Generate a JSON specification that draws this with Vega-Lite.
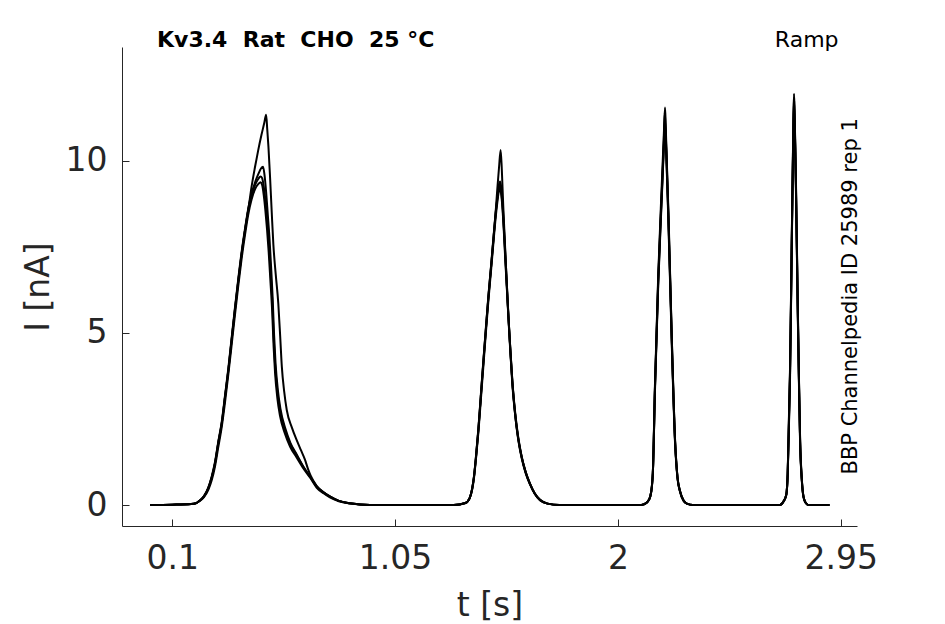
{
  "$schema": "https://vega.github.io/schema/vega-lite/v6.json",
  "width": 735,
  "height": 479,
  "autosize": "none",
  "padding": {"left": 122, "top": 47, "right": 88, "bottom": 98},
  "config": {"view": {"stroke": null}, "font": "DejaVu Sans"},
  "layer": [
    {
      "data": {
        "values": [
          {"s": "C", "t": 0.005, "i": 0}, {"s": "C", "t": 0.1, "i": 0.01}, {"s": "C", "t": 0.18, "i": 0.03}, {"s": "C", "t": 0.2, "i": 0.05},
          {"s": "C", "t": 0.215, "i": 0.12}, {"s": "C", "t": 0.235, "i": 0.25}, {"s": "C", "t": 0.254, "i": 0.5}, {"s": "C", "t": 0.268, "i": 0.8},
          {"s": "C", "t": 0.282, "i": 1.21}, {"s": "C", "t": 0.296, "i": 1.8}, {"s": "C", "t": 0.311, "i": 2.38}, {"s": "C", "t": 0.325, "i": 3.15},
          {"s": "C", "t": 0.339, "i": 3.92}, {"s": "C", "t": 0.353, "i": 4.8}, {"s": "C", "t": 0.367, "i": 5.67}, {"s": "C", "t": 0.381, "i": 6.5},
          {"s": "C", "t": 0.396, "i": 7.32}, {"s": "C", "t": 0.41, "i": 7.98}, {"s": "C", "t": 0.424, "i": 8.58}, {"s": "C", "t": 0.438, "i": 9.0},
          {"s": "C", "t": 0.453, "i": 9.3}, {"s": "C", "t": 0.467, "i": 9.48}, {"s": "C", "t": 0.476, "i": 9.55}, {"s": "C", "t": 0.483, "i": 9.5},
          {"s": "C", "t": 0.49, "i": 9.25}, {"s": "C", "t": 0.497, "i": 8.85}, {"s": "C", "t": 0.504, "i": 8.3}, {"s": "C", "t": 0.511, "i": 7.7},
          {"s": "C", "t": 0.518, "i": 6.9}, {"s": "C", "t": 0.526, "i": 5.96}, {"s": "C", "t": 0.532, "i": 4.9}, {"s": "C", "t": 0.538, "i": 4.1},
          {"s": "C", "t": 0.548, "i": 3.3}, {"s": "C", "t": 0.559, "i": 2.76}, {"s": "C", "t": 0.58, "i": 2.2}, {"s": "C", "t": 0.602, "i": 1.79},
          {"s": "C", "t": 0.63, "i": 1.45}, {"s": "C", "t": 0.659, "i": 1.11}, {"s": "C", "t": 0.69, "i": 0.8}, {"s": "C", "t": 0.716, "i": 0.53},
          {"s": "C", "t": 0.745, "i": 0.36}, {"s": "C", "t": 0.772, "i": 0.24}, {"s": "C", "t": 0.81, "i": 0.12}, {"s": "C", "t": 0.858, "i": 0.05},
          {"s": "C", "t": 0.943, "i": 0}, {"s": "C", "t": 1.3, "i": 0}, {"s": "C", "t": 1.35, "i": 0.06}, {"s": "C", "t": 1.368, "i": 0.2},
          {"s": "C", "t": 1.378, "i": 0.45}, {"s": "C", "t": 1.386, "i": 0.8}, {"s": "C", "t": 1.395, "i": 1.4}, {"s": "C", "t": 1.405, "i": 2.18},
          {"s": "C", "t": 1.415, "i": 3.1}, {"s": "C", "t": 1.426, "i": 4.12}, {"s": "C", "t": 1.437, "i": 5.1}, {"s": "C", "t": 1.448, "i": 6.06},
          {"s": "C", "t": 1.459, "i": 6.9}, {"s": "C", "t": 1.469, "i": 7.7}, {"s": "C", "t": 1.478, "i": 8.4}, {"s": "C", "t": 1.486, "i": 8.9},
          {"s": "C", "t": 1.492, "i": 9.2}, {"s": "C", "t": 1.497, "i": 9.3}, {"s": "C", "t": 1.502, "i": 9.15}, {"s": "C", "t": 1.508, "i": 8.7},
          {"s": "C", "t": 1.514, "i": 8.0}, {"s": "C", "t": 1.52, "i": 7.2}, {"s": "C", "t": 1.526, "i": 6.4}, {"s": "C", "t": 1.533, "i": 5.45},
          {"s": "C", "t": 1.54, "i": 4.6}, {"s": "C", "t": 1.55, "i": 3.5}, {"s": "C", "t": 1.561, "i": 2.67}, {"s": "C", "t": 1.575, "i": 1.9},
          {"s": "C", "t": 1.59, "i": 1.35}, {"s": "C", "t": 1.607, "i": 0.92}, {"s": "C", "t": 1.625, "i": 0.6}, {"s": "C", "t": 1.645, "i": 0.33},
          {"s": "C", "t": 1.668, "i": 0.14}, {"s": "C", "t": 1.7, "i": 0.04}, {"s": "C", "t": 1.75, "i": 0}, {"s": "C", "t": 2.1, "i": 0},
          {"s": "C", "t": 2.125, "i": 0.08}, {"s": "C", "t": 2.138, "i": 0.25}, {"s": "C", "t": 2.145, "i": 0.55}, {"s": "C", "t": 2.149, "i": 0.93},
          {"s": "C", "t": 2.158, "i": 3.4}, {"s": "C", "t": 2.172, "i": 6.5}, {"s": "C", "t": 2.187, "i": 9.0}, {"s": "C", "t": 2.196, "i": 10.5},
          {"s": "C", "t": 2.2, "i": 11.2}, {"s": "C", "t": 2.203, "i": 10.9}, {"s": "C", "t": 2.208, "i": 9.9}, {"s": "C", "t": 2.215, "i": 8.4},
          {"s": "C", "t": 2.23, "i": 4.7}, {"s": "C", "t": 2.244, "i": 1.8}, {"s": "C", "t": 2.254, "i": 0.8}, {"s": "C", "t": 2.265, "i": 0.4},
          {"s": "C", "t": 2.28, "i": 0.13}, {"s": "C", "t": 2.294, "i": 0.04}, {"s": "C", "t": 2.32, "i": 0}, {"s": "C", "t": 2.69, "i": 0},
          {"s": "C", "t": 2.706, "i": 0.1}, {"s": "C", "t": 2.718, "i": 0.3}, {"s": "C", "t": 2.724, "i": 0.9}, {"s": "C", "t": 2.73, "i": 2.6},
          {"s": "C", "t": 2.734, "i": 3.8}, {"s": "C", "t": 2.741, "i": 7.4}, {"s": "C", "t": 2.746, "i": 9.9}, {"s": "C", "t": 2.749, "i": 11.2},
          {"s": "C", "t": 2.751, "i": 11.75}, {"s": "C", "t": 2.753, "i": 11.3}, {"s": "C", "t": 2.756, "i": 10.4}, {"s": "C", "t": 2.759, "i": 9.3},
          {"s": "C", "t": 2.767, "i": 5.6}, {"s": "C", "t": 2.772, "i": 3.6}, {"s": "C", "t": 2.777, "i": 1.8}, {"s": "C", "t": 2.784, "i": 0.75},
          {"s": "C", "t": 2.791, "i": 0.25}, {"s": "C", "t": 2.8, "i": 0.07}, {"s": "C", "t": 2.812, "i": 0}, {"s": "C", "t": 2.902, "i": 0},

          {"s": "D", "t": 0.005, "i": 0}, {"s": "D", "t": 0.1, "i": 0.01}, {"s": "D", "t": 0.18, "i": 0.03}, {"s": "D", "t": 0.2, "i": 0.05},
          {"s": "D", "t": 0.215, "i": 0.11}, {"s": "D", "t": 0.235, "i": 0.23}, {"s": "D", "t": 0.254, "i": 0.45}, {"s": "D", "t": 0.268, "i": 0.72},
          {"s": "D", "t": 0.282, "i": 1.12}, {"s": "D", "t": 0.296, "i": 1.68}, {"s": "D", "t": 0.311, "i": 2.28}, {"s": "D", "t": 0.325, "i": 3.0},
          {"s": "D", "t": 0.339, "i": 3.8}, {"s": "D", "t": 0.353, "i": 4.65}, {"s": "D", "t": 0.367, "i": 5.52}, {"s": "D", "t": 0.381, "i": 6.35},
          {"s": "D", "t": 0.396, "i": 7.18}, {"s": "D", "t": 0.41, "i": 7.85}, {"s": "D", "t": 0.424, "i": 8.45}, {"s": "D", "t": 0.438, "i": 8.88},
          {"s": "D", "t": 0.453, "i": 9.18}, {"s": "D", "t": 0.467, "i": 9.33}, {"s": "D", "t": 0.476, "i": 9.38}, {"s": "D", "t": 0.483, "i": 9.3},
          {"s": "D", "t": 0.49, "i": 9.0}, {"s": "D", "t": 0.497, "i": 8.55}, {"s": "D", "t": 0.504, "i": 8.0}, {"s": "D", "t": 0.511, "i": 7.35},
          {"s": "D", "t": 0.518, "i": 6.55}, {"s": "D", "t": 0.526, "i": 5.6}, {"s": "D", "t": 0.532, "i": 4.6}, {"s": "D", "t": 0.538, "i": 3.85},
          {"s": "D", "t": 0.548, "i": 3.1}, {"s": "D", "t": 0.559, "i": 2.6}, {"s": "D", "t": 0.58, "i": 2.08}, {"s": "D", "t": 0.602, "i": 1.7},
          {"s": "D", "t": 0.63, "i": 1.38}, {"s": "D", "t": 0.659, "i": 1.06}, {"s": "D", "t": 0.69, "i": 0.77}, {"s": "D", "t": 0.716, "i": 0.5},
          {"s": "D", "t": 0.745, "i": 0.34}, {"s": "D", "t": 0.772, "i": 0.22}, {"s": "D", "t": 0.81, "i": 0.11}, {"s": "D", "t": 0.858, "i": 0.04},
          {"s": "D", "t": 0.943, "i": 0}, {"s": "D", "t": 1.3, "i": 0}, {"s": "D", "t": 1.35, "i": 0.06}, {"s": "D", "t": 1.368, "i": 0.2},
          {"s": "D", "t": 1.378, "i": 0.43}, {"s": "D", "t": 1.386, "i": 0.76}, {"s": "D", "t": 1.395, "i": 1.35}, {"s": "D", "t": 1.405, "i": 2.1},
          {"s": "D", "t": 1.415, "i": 3.0}, {"s": "D", "t": 1.426, "i": 4.0}, {"s": "D", "t": 1.437, "i": 5.0}, {"s": "D", "t": 1.448, "i": 5.95},
          {"s": "D", "t": 1.459, "i": 6.8}, {"s": "D", "t": 1.469, "i": 7.6}, {"s": "D", "t": 1.478, "i": 8.3}, {"s": "D", "t": 1.486, "i": 8.8},
          {"s": "D", "t": 1.492, "i": 9.1}, {"s": "D", "t": 1.497, "i": 9.2}, {"s": "D", "t": 1.502, "i": 9.05}, {"s": "D", "t": 1.508, "i": 8.6},
          {"s": "D", "t": 1.514, "i": 7.9}, {"s": "D", "t": 1.52, "i": 7.1}, {"s": "D", "t": 1.526, "i": 6.35}, {"s": "D", "t": 1.533, "i": 5.5},
          {"s": "D", "t": 1.54, "i": 4.7}, {"s": "D", "t": 1.55, "i": 3.6}, {"s": "D", "t": 1.561, "i": 2.75}, {"s": "D", "t": 1.575, "i": 1.97},
          {"s": "D", "t": 1.59, "i": 1.4}, {"s": "D", "t": 1.607, "i": 0.95}, {"s": "D", "t": 1.625, "i": 0.62}, {"s": "D", "t": 1.645, "i": 0.34},
          {"s": "D", "t": 1.668, "i": 0.15}, {"s": "D", "t": 1.7, "i": 0.04}, {"s": "D", "t": 1.75, "i": 0}, {"s": "D", "t": 2.1, "i": 0},
          {"s": "D", "t": 2.125, "i": 0.08}, {"s": "D", "t": 2.138, "i": 0.25}, {"s": "D", "t": 2.145, "i": 0.55}, {"s": "D", "t": 2.149, "i": 0.93},
          {"s": "D", "t": 2.158, "i": 3.4}, {"s": "D", "t": 2.172, "i": 6.6}, {"s": "D", "t": 2.187, "i": 9.1}, {"s": "D", "t": 2.196, "i": 10.6},
          {"s": "D", "t": 2.2, "i": 11.4}, {"s": "D", "t": 2.203, "i": 11.0}, {"s": "D", "t": 2.208, "i": 10.0}, {"s": "D", "t": 2.215, "i": 8.5},
          {"s": "D", "t": 2.23, "i": 4.8}, {"s": "D", "t": 2.244, "i": 1.85}, {"s": "D", "t": 2.254, "i": 0.82}, {"s": "D", "t": 2.265, "i": 0.4},
          {"s": "D", "t": 2.28, "i": 0.13}, {"s": "D", "t": 2.294, "i": 0.04}, {"s": "D", "t": 2.32, "i": 0}, {"s": "D", "t": 2.69, "i": 0},
          {"s": "D", "t": 2.706, "i": 0.1}, {"s": "D", "t": 2.718, "i": 0.3}, {"s": "D", "t": 2.724, "i": 0.9}, {"s": "D", "t": 2.73, "i": 2.5},
          {"s": "D", "t": 2.734, "i": 3.7}, {"s": "D", "t": 2.741, "i": 7.3}, {"s": "D", "t": 2.746, "i": 9.8}, {"s": "D", "t": 2.749, "i": 11.1},
          {"s": "D", "t": 2.751, "i": 11.6}, {"s": "D", "t": 2.753, "i": 11.2}, {"s": "D", "t": 2.756, "i": 10.3}, {"s": "D", "t": 2.759, "i": 9.2},
          {"s": "D", "t": 2.767, "i": 5.5}, {"s": "D", "t": 2.772, "i": 3.5}, {"s": "D", "t": 2.777, "i": 1.75}, {"s": "D", "t": 2.784, "i": 0.72},
          {"s": "D", "t": 2.791, "i": 0.24}, {"s": "D", "t": 2.8, "i": 0.07}, {"s": "D", "t": 2.812, "i": 0}, {"s": "D", "t": 2.902, "i": 0},

          {"s": "B", "t": 0.005, "i": 0}, {"s": "B", "t": 0.1, "i": 0.01}, {"s": "B", "t": 0.18, "i": 0.03}, {"s": "B", "t": 0.2, "i": 0.05},
          {"s": "B", "t": 0.215, "i": 0.12}, {"s": "B", "t": 0.235, "i": 0.26}, {"s": "B", "t": 0.254, "i": 0.52}, {"s": "B", "t": 0.268, "i": 0.83},
          {"s": "B", "t": 0.282, "i": 1.25}, {"s": "B", "t": 0.296, "i": 1.84}, {"s": "B", "t": 0.311, "i": 2.43}, {"s": "B", "t": 0.325, "i": 3.2},
          {"s": "B", "t": 0.339, "i": 3.98}, {"s": "B", "t": 0.353, "i": 4.86}, {"s": "B", "t": 0.367, "i": 5.73}, {"s": "B", "t": 0.381, "i": 6.56},
          {"s": "B", "t": 0.396, "i": 7.38}, {"s": "B", "t": 0.41, "i": 8.03}, {"s": "B", "t": 0.424, "i": 8.62}, {"s": "B", "t": 0.438, "i": 9.05},
          {"s": "B", "t": 0.453, "i": 9.38}, {"s": "B", "t": 0.467, "i": 9.62}, {"s": "B", "t": 0.478, "i": 9.78}, {"s": "B", "t": 0.487, "i": 9.83},
          {"s": "B", "t": 0.493, "i": 9.6}, {"s": "B", "t": 0.5, "i": 9.1}, {"s": "B", "t": 0.507, "i": 8.45}, {"s": "B", "t": 0.514, "i": 7.8},
          {"s": "B", "t": 0.521, "i": 6.95}, {"s": "B", "t": 0.528, "i": 6.0}, {"s": "B", "t": 0.534, "i": 4.95}, {"s": "B", "t": 0.54, "i": 4.15},
          {"s": "B", "t": 0.55, "i": 3.35}, {"s": "B", "t": 0.561, "i": 2.8}, {"s": "B", "t": 0.582, "i": 2.22}, {"s": "B", "t": 0.604, "i": 1.8},
          {"s": "B", "t": 0.632, "i": 1.45}, {"s": "B", "t": 0.66, "i": 1.1}, {"s": "B", "t": 0.69, "i": 0.8}, {"s": "B", "t": 0.716, "i": 0.54},
          {"s": "B", "t": 0.745, "i": 0.37}, {"s": "B", "t": 0.772, "i": 0.25}, {"s": "B", "t": 0.81, "i": 0.12}, {"s": "B", "t": 0.858, "i": 0.05},
          {"s": "B", "t": 0.943, "i": 0}, {"s": "B", "t": 1.3, "i": 0}, {"s": "B", "t": 1.35, "i": 0.06}, {"s": "B", "t": 1.368, "i": 0.21},
          {"s": "B", "t": 1.378, "i": 0.46}, {"s": "B", "t": 1.386, "i": 0.82}, {"s": "B", "t": 1.395, "i": 1.43}, {"s": "B", "t": 1.405, "i": 2.22},
          {"s": "B", "t": 1.415, "i": 3.15}, {"s": "B", "t": 1.426, "i": 4.17}, {"s": "B", "t": 1.437, "i": 5.15}, {"s": "B", "t": 1.448, "i": 6.1},
          {"s": "B", "t": 1.459, "i": 6.95}, {"s": "B", "t": 1.469, "i": 7.75}, {"s": "B", "t": 1.478, "i": 8.45}, {"s": "B", "t": 1.486, "i": 8.95},
          {"s": "B", "t": 1.492, "i": 9.28}, {"s": "B", "t": 1.498, "i": 9.4}, {"s": "B", "t": 1.503, "i": 9.2}, {"s": "B", "t": 1.509, "i": 8.7},
          {"s": "B", "t": 1.515, "i": 7.95}, {"s": "B", "t": 1.521, "i": 7.15}, {"s": "B", "t": 1.527, "i": 6.35}, {"s": "B", "t": 1.534, "i": 5.4},
          {"s": "B", "t": 1.541, "i": 4.55}, {"s": "B", "t": 1.551, "i": 3.48}, {"s": "B", "t": 1.562, "i": 2.65}, {"s": "B", "t": 1.576, "i": 1.9},
          {"s": "B", "t": 1.591, "i": 1.35}, {"s": "B", "t": 1.608, "i": 0.92}, {"s": "B", "t": 1.626, "i": 0.6}, {"s": "B", "t": 1.646, "i": 0.33},
          {"s": "B", "t": 1.668, "i": 0.14}, {"s": "B", "t": 1.7, "i": 0.04}, {"s": "B", "t": 1.75, "i": 0}, {"s": "B", "t": 2.1, "i": 0},
          {"s": "B", "t": 2.125, "i": 0.08}, {"s": "B", "t": 2.138, "i": 0.25}, {"s": "B", "t": 2.145, "i": 0.55}, {"s": "B", "t": 2.149, "i": 0.93},
          {"s": "B", "t": 2.158, "i": 3.3}, {"s": "B", "t": 2.172, "i": 6.4}, {"s": "B", "t": 2.187, "i": 8.9}, {"s": "B", "t": 2.196, "i": 10.4},
          {"s": "B", "t": 2.2, "i": 11.1}, {"s": "B", "t": 2.203, "i": 10.8}, {"s": "B", "t": 2.208, "i": 9.8}, {"s": "B", "t": 2.215, "i": 8.3},
          {"s": "B", "t": 2.23, "i": 4.6}, {"s": "B", "t": 2.244, "i": 1.75}, {"s": "B", "t": 2.254, "i": 0.78}, {"s": "B", "t": 2.265, "i": 0.38},
          {"s": "B", "t": 2.28, "i": 0.12}, {"s": "B", "t": 2.294, "i": 0.04}, {"s": "B", "t": 2.32, "i": 0}, {"s": "B", "t": 2.69, "i": 0},
          {"s": "B", "t": 2.706, "i": 0.1}, {"s": "B", "t": 2.718, "i": 0.3}, {"s": "B", "t": 2.724, "i": 0.92}, {"s": "B", "t": 2.73, "i": 2.7},
          {"s": "B", "t": 2.734, "i": 3.9}, {"s": "B", "t": 2.741, "i": 7.5}, {"s": "B", "t": 2.746, "i": 10.0}, {"s": "B", "t": 2.749, "i": 11.3},
          {"s": "B", "t": 2.751, "i": 11.85}, {"s": "B", "t": 2.753, "i": 11.4}, {"s": "B", "t": 2.756, "i": 10.5}, {"s": "B", "t": 2.759, "i": 9.4},
          {"s": "B", "t": 2.767, "i": 5.7}, {"s": "B", "t": 2.772, "i": 3.65}, {"s": "B", "t": 2.777, "i": 1.85}, {"s": "B", "t": 2.784, "i": 0.77},
          {"s": "B", "t": 2.791, "i": 0.26}, {"s": "B", "t": 2.8, "i": 0.07}, {"s": "B", "t": 2.812, "i": 0}, {"s": "B", "t": 2.902, "i": 0},

          {"s": "A", "t": 0.005, "i": 0}, {"s": "A", "t": 0.1, "i": 0.01}, {"s": "A", "t": 0.18, "i": 0.03}, {"s": "A", "t": 0.2, "i": 0.05},
          {"s": "A", "t": 0.215, "i": 0.12}, {"s": "A", "t": 0.235, "i": 0.25}, {"s": "A", "t": 0.254, "i": 0.5}, {"s": "A", "t": 0.268, "i": 0.8},
          {"s": "A", "t": 0.282, "i": 1.21}, {"s": "A", "t": 0.296, "i": 1.8}, {"s": "A", "t": 0.311, "i": 2.38}, {"s": "A", "t": 0.325, "i": 3.15},
          {"s": "A", "t": 0.339, "i": 3.92}, {"s": "A", "t": 0.353, "i": 4.8}, {"s": "A", "t": 0.367, "i": 5.67}, {"s": "A", "t": 0.381, "i": 6.5},
          {"s": "A", "t": 0.396, "i": 7.32}, {"s": "A", "t": 0.41, "i": 7.98}, {"s": "A", "t": 0.424, "i": 8.58}, {"s": "A", "t": 0.438, "i": 9.25},
          {"s": "A", "t": 0.452, "i": 9.8}, {"s": "A", "t": 0.466, "i": 10.3}, {"s": "A", "t": 0.48, "i": 10.75}, {"s": "A", "t": 0.492, "i": 11.1},
          {"s": "A", "t": 0.5, "i": 11.34}, {"s": "A", "t": 0.505, "i": 10.9}, {"s": "A", "t": 0.51, "i": 10.4}, {"s": "A", "t": 0.517, "i": 9.5},
          {"s": "A", "t": 0.524, "i": 8.5}, {"s": "A", "t": 0.531, "i": 7.56}, {"s": "A", "t": 0.541, "i": 6.7}, {"s": "A", "t": 0.552, "i": 5.85},
          {"s": "A", "t": 0.56, "i": 4.9}, {"s": "A", "t": 0.567, "i": 4.02}, {"s": "A", "t": 0.577, "i": 3.3}, {"s": "A", "t": 0.588, "i": 2.76},
          {"s": "A", "t": 0.61, "i": 2.25}, {"s": "A", "t": 0.63, "i": 1.89}, {"s": "A", "t": 0.648, "i": 1.6}, {"s": "A", "t": 0.666, "i": 1.31},
          {"s": "A", "t": 0.68, "i": 1.02}, {"s": "A", "t": 0.69, "i": 0.85}, {"s": "A", "t": 0.716, "i": 0.55}, {"s": "A", "t": 0.745, "i": 0.37},
          {"s": "A", "t": 0.772, "i": 0.25}, {"s": "A", "t": 0.81, "i": 0.12}, {"s": "A", "t": 0.858, "i": 0.05}, {"s": "A", "t": 0.943, "i": 0},
          {"s": "A", "t": 1.3, "i": 0}, {"s": "A", "t": 1.35, "i": 0.06}, {"s": "A", "t": 1.368, "i": 0.2}, {"s": "A", "t": 1.378, "i": 0.45},
          {"s": "A", "t": 1.386, "i": 0.8}, {"s": "A", "t": 1.395, "i": 1.4}, {"s": "A", "t": 1.405, "i": 2.18}, {"s": "A", "t": 1.415, "i": 3.1},
          {"s": "A", "t": 1.426, "i": 4.12}, {"s": "A", "t": 1.437, "i": 5.1}, {"s": "A", "t": 1.448, "i": 6.06}, {"s": "A", "t": 1.459, "i": 6.9},
          {"s": "A", "t": 1.469, "i": 7.7}, {"s": "A", "t": 1.478, "i": 8.45}, {"s": "A", "t": 1.486, "i": 9.2}, {"s": "A", "t": 1.493, "i": 9.8},
          {"s": "A", "t": 1.5, "i": 10.32}, {"s": "A", "t": 1.505, "i": 9.75}, {"s": "A", "t": 1.511, "i": 8.7}, {"s": "A", "t": 1.517, "i": 7.8},
          {"s": "A", "t": 1.523, "i": 6.9}, {"s": "A", "t": 1.53, "i": 5.9}, {"s": "A", "t": 1.537, "i": 5.0}, {"s": "A", "t": 1.547, "i": 3.85},
          {"s": "A", "t": 1.558, "i": 2.9}, {"s": "A", "t": 1.572, "i": 2.05}, {"s": "A", "t": 1.588, "i": 1.45}, {"s": "A", "t": 1.605, "i": 1.0},
          {"s": "A", "t": 1.625, "i": 0.62}, {"s": "A", "t": 1.645, "i": 0.34}, {"s": "A", "t": 1.668, "i": 0.15}, {"s": "A", "t": 1.7, "i": 0.04},
          {"s": "A", "t": 1.75, "i": 0}, {"s": "A", "t": 2.1, "i": 0}, {"s": "A", "t": 2.125, "i": 0.08}, {"s": "A", "t": 2.138, "i": 0.25},
          {"s": "A", "t": 2.145, "i": 0.55}, {"s": "A", "t": 2.149, "i": 0.95}, {"s": "A", "t": 2.158, "i": 3.5}, {"s": "A", "t": 2.172, "i": 6.7},
          {"s": "A", "t": 2.187, "i": 9.3}, {"s": "A", "t": 2.196, "i": 10.8}, {"s": "A", "t": 2.201, "i": 11.55}, {"s": "A", "t": 2.204, "i": 11.0},
          {"s": "A", "t": 2.209, "i": 9.9}, {"s": "A", "t": 2.216, "i": 8.4}, {"s": "A", "t": 2.23, "i": 4.8}, {"s": "A", "t": 2.244, "i": 1.85},
          {"s": "A", "t": 2.254, "i": 0.82}, {"s": "A", "t": 2.265, "i": 0.4}, {"s": "A", "t": 2.28, "i": 0.13}, {"s": "A", "t": 2.294, "i": 0.04},
          {"s": "A", "t": 2.32, "i": 0}, {"s": "A", "t": 2.69, "i": 0}, {"s": "A", "t": 2.706, "i": 0.1}, {"s": "A", "t": 2.718, "i": 0.3},
          {"s": "A", "t": 2.724, "i": 0.93}, {"s": "A", "t": 2.73, "i": 2.8}, {"s": "A", "t": 2.734, "i": 4.0}, {"s": "A", "t": 2.741, "i": 7.6},
          {"s": "A", "t": 2.746, "i": 10.1}, {"s": "A", "t": 2.749, "i": 11.4}, {"s": "A", "t": 2.751, "i": 11.95}, {"s": "A", "t": 2.753, "i": 11.5},
          {"s": "A", "t": 2.756, "i": 10.6}, {"s": "A", "t": 2.759, "i": 9.5}, {"s": "A", "t": 2.767, "i": 5.8}, {"s": "A", "t": 2.772, "i": 3.7},
          {"s": "A", "t": 2.777, "i": 1.9}, {"s": "A", "t": 2.784, "i": 0.78}, {"s": "A", "t": 2.791, "i": 0.26}, {"s": "A", "t": 2.8, "i": 0.07},
          {"s": "A", "t": 2.812, "i": 0}, {"s": "A", "t": 2.902, "i": 0}
        ]
      },
      "mark": {"type": "line", "color": "black", "strokeWidth": 2, "interpolate": "monotone"},
      "encoding": {
        "x": {
          "field": "t",
          "type": "quantitative",
          "scale": {"domain": [-0.1145, 3.0195], "nice": false, "zero": false},
          "axis": {
            "values": [0.1, 1.05, 2, 2.95],
            "format": ".3~g",
            "title": "t [s]",
            "grid": false,
            "domainColor": "#262626",
            "tickColor": "#262626",
            "tickSize": -7,
            "labelFont": "DejaVu Sans",
            "labelFontSize": 33,
            "labelColor": "#262626",
            "labelPadding": 23,
            "labelFlush": false,
            "titleFont": "DejaVu Sans",
            "titleFontSize": 33,
            "titleFontWeight": "normal",
            "titleColor": "#262626",
            "titlePadding": 14
          }
        },
        "y": {
          "field": "i",
          "type": "quantitative",
          "scale": {"domain": [-0.61, 13.31], "nice": false, "zero": false},
          "axis": {
            "values": [0, 5, 10],
            "title": "I [nA]",
            "grid": false,
            "domainColor": "#262626",
            "tickColor": "#262626",
            "tickSize": -7,
            "labelFont": "DejaVu Sans",
            "labelFontSize": 33,
            "labelColor": "#262626",
            "labelPadding": 22,
            "titleFont": "DejaVu Sans",
            "titleFontSize": 33,
            "titleFontWeight": "normal",
            "titleColor": "#262626",
            "titlePadding": 10
          }
        },
        "detail": {"field": "s", "type": "nominal"}
      }
    },
    {
      "data": {"values": [{"label": "Kv3.4\u00a0 Rat\u00a0 CHO\u00a0 25 °C"}]},
      "mark": {"type": "text", "align": "left", "baseline": "alphabetic", "font": "DejaVu Sans", "fontSize": 22, "fontWeight": "bold", "color": "black"},
      "encoding": {
        "x": {"datum": 0.035, "type": "quantitative"},
        "y": {"datum": 13.32, "type": "quantitative"},
        "text": {"field": "label", "type": "nominal"}
      }
    },
    {
      "data": {"values": [{"label": "Ramp"}]},
      "mark": {"type": "text", "align": "center", "baseline": "alphabetic", "font": "DejaVu Sans", "fontSize": 22, "color": "black"},
      "encoding": {
        "x": {"datum": 2.805, "type": "quantitative"},
        "y": {"datum": 13.32, "type": "quantitative"},
        "text": {"field": "label", "type": "nominal"}
      }
    },
    {
      "data": {"values": [{"label": "BBP Channelpedia ID 25989 rep 1"}]},
      "mark": {"type": "text", "align": "left", "baseline": "alphabetic", "angle": 270, "font": "DejaVu Sans", "fontSize": 21, "color": "black"},
      "encoding": {
        "x": {"datum": 3.018, "type": "quantitative"},
        "y": {"datum": 0.886, "type": "quantitative"},
        "text": {"field": "label", "type": "nominal"}
      }
    }
  ]
}
